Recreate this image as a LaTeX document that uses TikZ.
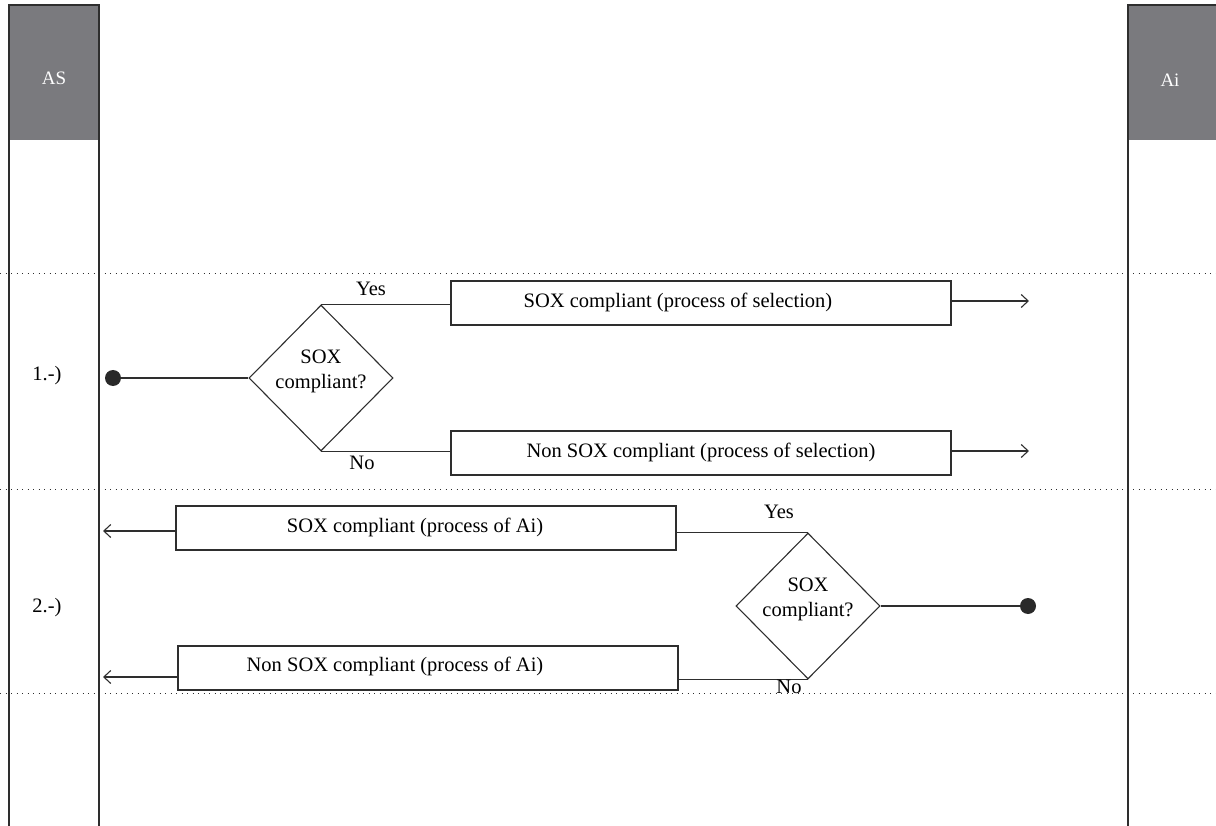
\documentclass[tikz,border=0pt]{standalone}
\usepackage{fontspec}
\setmainfont{Liberation Serif}
\usetikzlibrary{arrows.meta,shapes.geometric}
\definecolor{hdr}{HTML}{7A7A7E}
\definecolor{ln}{HTML}{2E2E2E}
\tikzset{
  lane/.style={draw=ln,line width=1.6pt},
  sep/.style={draw=ln,line width=0.9pt,dash pattern=on 0.9pt off 4.6pt},
  box/.style={draw=ln,line width=1.2pt,minimum width=500pt,minimum height=44pt,inner sep=0pt},
  dec/.style={draw=ln,line width=1.1pt,diamond,minimum width=144pt,minimum height=146pt,inner sep=0pt},
  dtxt/.style={align=center,font=\fontsize{20.5}{25}\selectfont,inner sep=0pt},
  conn/.style={draw=ln,line width=1.2pt},
  arr/.style={conn,-{Straight Barb[length=7pt,width=13pt,line width=1.1pt]}},
  lbl/.style={font=\fontsize{20.5}{23}\selectfont,inner sep=0pt},
  hlbl/.style={text=white,font=\fontsize{19}{21}\selectfont,inner sep=0pt},
  dot/.style={circle,fill=ln!90!black,minimum size=16pt,inner sep=0pt}
}
\begin{document}
\begin{tikzpicture}[x=1pt,y=-1pt]
\useasboundingbox (0,0) rectangle (1216,826);
% lane headers
\fill[hdr] (9,5) rectangle (99,140);
\fill[hdr] (1128,5) rectangle (1216,140);
\node[hlbl] (as) at (54,78) {AS};
\node[hlbl] (ai) at (1170,80) {Ai};
\draw[lane] (9,826) -- (9,5) -- (99,5) -- (99,826);
\draw[lane] (1216,5) -- (1128,5) -- (1128,826);
% separators
\draw[sep] (0,273) -- (1216,273);
\draw[sep] (0,489) -- (1216,489);
\draw[sep] (0,693) -- (1216,693);
% section labels
\node[lbl] (s1) at (47,376) {1.-)};
\node[lbl] (s2) at (47,608) {2.-)};
% row 1
\node[dot] (d1) at (113,378) {};
\node[dec] (q1) at (321,378) {};
\node[dtxt] (q1t) at (321,371) {SOX\\compliant?};
\node[box] (b1) at (701,303) {};
\node[box] (b2) at (701,453) {};
\node[lbl] (t1) at (678,302) {SOX compliant (process of selection)};
\node[lbl] (t2) at (701,452) {Non SOX compliant (process of selection)};
\coordinate (e1) at (1029,301);
\coordinate (e2) at (1029,451);
\draw[conn] (d1) -- (q1.west);
\draw[conn] (q1.north) -- (q1.north -| b1.west);
\draw[conn] (q1.south) -- (q1.south -| b2.west);
\draw[arr] (b1.east |- e1) -- (e1);
\draw[arr] (b2.east |- e2) -- (e2);
\node[lbl] (y1) at (371,289) {Yes};
\node[lbl] (n1) at (362,463) {No};
% row 2
\node[box] (b3) at (426,528) {};
\node[box] (b4) at (428,668) {};
\node[lbl] (t3) at (415,527) {SOX compliant (process of Ai)};
\node[lbl] (t4) at (395,666) {Non SOX compliant (process of Ai)};
\node[dec] (q2) at (808,606) {};
\node[dtxt] (q2t) at (808,599) {SOX\\compliant?};
\node[dot] (d2) at (1028,606) {};
\coordinate (e3) at (103,531);
\coordinate (e4) at (103,677);
\draw[conn] (q2.east) -- (d2);
\draw[conn] (q2.north) -- (q2.north -| b3.east);
\draw[conn] (q2.south) -- (q2.south -| b4.east);
\draw[arr] (b3.west |- e3) -- (e3);
\draw[arr] (b4.west |- e4) -- (e4);
\node[lbl] (y2) at (779,512) {Yes};
\node[lbl] (n2) at (789,687) {No};
\end{tikzpicture}
\end{document}
